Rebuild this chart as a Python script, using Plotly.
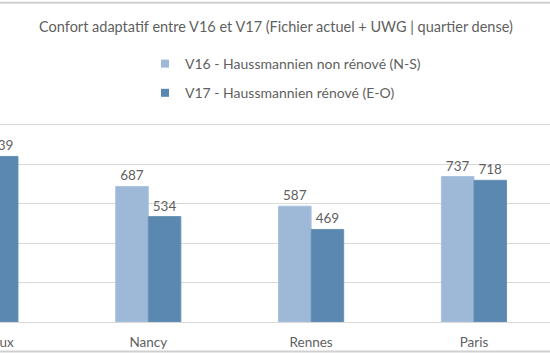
import plotly.graph_objects as go

categories = ["Bordeaux", "Nancy", "Rennes", "Paris"]
v16_values = [790, 687, 587, 737]
v17_values = [839, 534, 469, 718]
series_names = ["V16 - Haussmannien non rénové (N-S)", "V17 - Haussmannien rénové (E-O)"]
y_ticks = [0, 200, 400, 600, 800, 1000, 1200]
colors = ["#9DB9D7", "#5A88B0"]
edge_colors = ["#AAC3DE", "#6992B7"]

FONT = "Lato"
TXT = "#5f5f5f"
GRID = "#D9D9D9"

# The reference is a crop of a wider chart: the figure is drawn wider and
# shifted left so that only the visible part lands in the window.
SHIFT = 96
W = 550 + SHIFT

fig = go.Figure()
for vals, name, col, ecol in zip([v16_values, v17_values], series_names, colors, edge_colors):
    fig.add_trace(go.Bar(
        x=categories, y=vals, name=name, showlegend=False,
        marker=dict(color=col, line=dict(color=ecol, width=1)),
        texttemplate="%{y}", textposition="outside", cliponaxis=False,
        textfont=dict(family=FONT, size=13.5, color=TXT),
        hoverinfo="skip",
    ))

# legend entries with small square symbols
for i, (name, col) in enumerate(zip(series_names, colors)):
    fig.add_trace(go.Scatter(
        x=[None], y=[None], mode="markers", name=name,
        marker=dict(symbol="square", size=8, color=col),
        legendgroup=f"g{i}",
    ))

# chart outer border lines
fig.add_shape(type="line", xref="paper", yref="paper", x0=0, x1=1,
              y0=1.347, y1=1.347, line=dict(color="#D0D0D0", width=2), layer="above")
fig.add_shape(type="line", xref="paper", yref="paper", x0=0, x1=1,
              y0=-0.124, y1=-0.124, line=dict(color="#D0D0D0", width=2), layer="above")

fig.update_layout(
    width=W, height=353,
    margin=dict(l=0, r=0, t=85, b=31, pad=0),
    paper_bgcolor="white", plot_bgcolor="white",
    barmode="group", bargap=0.6, bargroupgap=0,
    title=dict(text="Confort adaptatif entre V16 et V17 (Fichier actuel + UWG | quartier dense)",
               x=(276 + SHIFT) / W, xanchor="center", y=1 - 27 / 353, yanchor="middle",
               font=dict(family=FONT, size=14.5, color=TXT)),
    legend=dict(orientation="v", x=(145 + SHIFT) / W, xanchor="left", y=1 + (85 - 48) / 237,
                yanchor="top", bgcolor="rgba(0,0,0,0)", tracegroupgap=8,
                font=dict(family=FONT, size=14, color=TXT), itemwidth=30),
    xaxis=dict(range=[-0.5, 3.467], showgrid=False, showline=False, ticks="",
               zeroline=False, ticklabelstandoff=10,
               tickfont=dict(family=FONT, size=13.5, color=TXT)),
    yaxis=dict(range=[0, 1201], tickvals=y_ticks, showticklabels=False,
               showgrid=True, gridcolor=GRID, gridwidth=1,
               zeroline=True, zerolinecolor=GRID, zerolinewidth=1,
               showline=False, ticks=""),
)

post = (
    "var d=document.getElementById('{plot_id}');"
    "d.style.marginLeft='-%dpx';"
    "document.body.style.overflow='hidden';" % SHIFT
)
fig.write_html("out.html", post_script=post)
